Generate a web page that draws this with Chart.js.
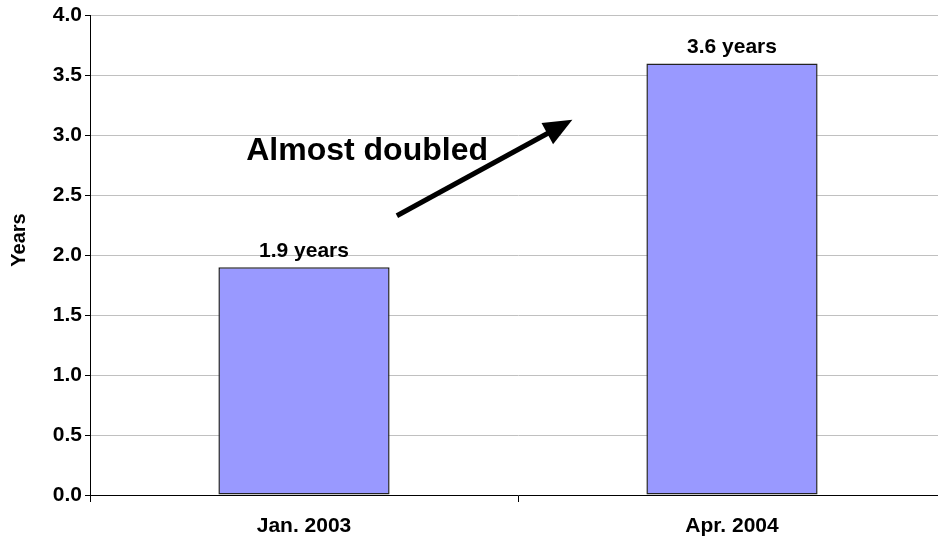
<!DOCTYPE html>
<html>
<head>
<meta charset="utf-8">
<script src="https://cdn.jsdelivr.net/npm/chart.js@4/dist/chart.umd.min.js"></script>
<style>
  html, body { margin: 0; padding: 0; background: #fff; overflow: hidden; }
</style>
</head>
<body>
<canvas id="yearsChart" width="948" height="547"></canvas>
<script>
// Datos del gráfico
const categories = ["Jan. 2003", "Apr. 2004"];
const years = [1.9, 3.6];
const valueLabels = ["1.9 years", "3.6 years"];
const yTicks = [0, 0.5, 1, 1.5, 2, 2.5, 3, 3.5, 4];

// Flecha y texto del comentario, en coordenadas de las escalas
const arrowFrom = [0.217, 2.33];
const arrowTo = [0.627, 3.13];
const noteText = "Almost doubled";
const notePos = [-0.135, 2.87];

const FONT = "'Liberation Sans', Arial, sans-serif";

// Etiqueta de valor sobre cada barra
const valueLabelPlugin = {
  id: "valueLabels",
  afterDatasetsDraw(chart) {
    const ctx = chart.ctx;
    const meta = chart.getDatasetMeta(0);
    ctx.save();
    ctx.font = "bold 21px " + FONT;
    ctx.fillStyle = "#000";
    ctx.textAlign = "center";
    ctx.textBaseline = "bottom";
    meta.data.forEach((bar, i) => {
      ctx.fillText(valueLabels[i], bar.x, bar.y - 6);
    });
    ctx.restore();
  }
};

// Flecha, comentario y título del eje Y
const notePlugin = {
  id: "note",
  afterDraw(chart) {
    const ctx = chart.ctx;
    const xs = chart.scales.x;
    const ys = chart.scales.y;
    const x0 = xs.getPixelForValue(0);
    const step = xs.getPixelForValue(1) - x0;
    const x1 = x0 + step * arrowFrom[0];
    const y1 = ys.getPixelForValue(arrowFrom[1]);
    const x2 = x0 + step * arrowTo[0];
    const y2 = ys.getPixelForValue(arrowTo[1]);
    const ang = Math.atan2(y2 - y1, x2 - x1);
    const head = 31;
    ctx.save();
    ctx.strokeStyle = "#000";
    ctx.fillStyle = "#000";
    ctx.lineWidth = 5;
    ctx.beginPath();
    ctx.moveTo(x1, y1);
    ctx.lineTo(x2 - Math.cos(ang) * head * 0.8, y2 - Math.sin(ang) * head * 0.8);
    ctx.stroke();
    ctx.beginPath();
    ctx.moveTo(x2, y2);
    ctx.lineTo(x2 - head * Math.cos(ang - 0.4), y2 - head * Math.sin(ang - 0.4));
    ctx.lineTo(x2 - head * Math.cos(ang + 0.4), y2 - head * Math.sin(ang + 0.4));
    ctx.closePath();
    ctx.fill();

    ctx.font = "bold 32px " + FONT;
    ctx.textAlign = "left";
    ctx.textBaseline = "middle";
    ctx.fillText(noteText, x0 + step * notePos[0], ys.getPixelForValue(notePos[1]));

    ctx.font = "bold 20px " + FONT;
    ctx.translate(19, 240);
    ctx.rotate(-Math.PI / 2);
    ctx.textAlign = "center";
    ctx.fillText("Years", 0, 0);
    ctx.restore();
  }
};

const ctx = document.getElementById("yearsChart").getContext("2d");
const myChart = new Chart(ctx, {
  type: "bar",
  data: {
    labels: categories,
    datasets: [{
      data: years,
      backgroundColor: "#9999ff",
      borderColor: "#222222",
      borderWidth: 1.5,
      borderSkipped: false,
      barPercentage: 0.4,
      categoryPercentage: 1
    }]
  },
  options: {
    responsive: false,
    animation: false,
    layout: { padding: { top: 13, right: 2, left: 0, bottom: 0 } },
    plugins: {
      legend: { display: false },
      tooltip: { enabled: false }
    },
    scales: {
      x: {
        grid: { drawOnChartArea: false, tickLength: 7, tickColor: "#000", offset: true },
        border: { color: "#000", width: 1 },
        ticks: { color: "#000", padding: 12, font: { family: FONT, size: 21, weight: "bold" } },
        afterFit(scale) { scale.height = 52; }
      },
      y: {
        min: 0,
        max: 4,
        afterBuildTicks(scale) { scale.ticks = yTicks.map(v => ({ value: v })); },
        grid: { color: "#c0c0c0", lineWidth: 1, tickLength: 5, tickColor: "#000" },
        border: { color: "#000", width: 1 },
        ticks: {
          color: "#000",
          padding: 3,
          font: { family: FONT, size: 21, weight: "bold" },
          callback: v => v.toFixed(1)
        },
        afterFit(scale) { scale.width = 90; }
      }
    }
  },
  plugins: [valueLabelPlugin, notePlugin]
});
</script>
</body>
</html>
